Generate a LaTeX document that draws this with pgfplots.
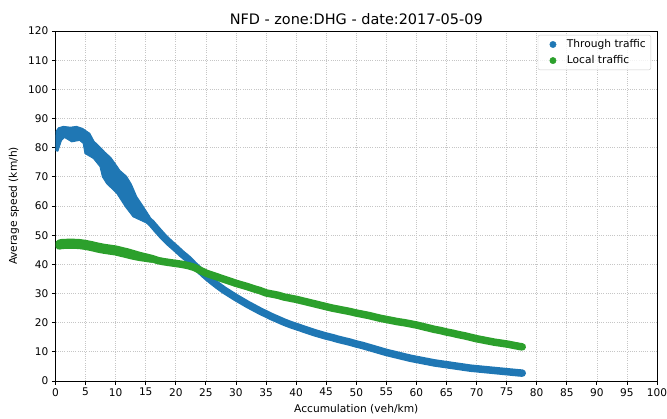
\documentclass[border=0pt]{standalone}
\usepackage{pgfplots}
\pgfplotsset{compat=1.18}
\usepackage{fontspec}
\setmainfont{DejaVu Sans}
\definecolor{tblue}{RGB}{31,119,180}
\definecolor{tgreen}{RGB}{44,160,44}
\begin{document}
\begin{tikzpicture}
\begin{axis}[
  scale only axis, width=601.5bp, height=350bp,
  at={(0,0)}, anchor=south west,
  xmin=0, xmax=100, ymin=0, ymax=120,
  xtick={0,5,...,100}, ytick={0,10,...,120},
  /pgf/number format/assume math mode=true,
  tick label style={font=\fontsize{10.6}{12}\selectfont, black},
  tick align=outside, xtick pos=left, ytick pos=left,
  major tick length=3.7bp,
  every tick/.style={black, line width=0.8bp},
  axis line style={black, line width=0.8bp},
  grid=major,
  major grid style={gray!45, line width=0.7bp, dash pattern=on 0.8bp off 1.4bp},
  title={NFD - zone:DHG - date:2017-05-09},
  every axis title/.style={font=\fontsize{14.5}{16}\selectfont, at={(axis description cs:0.5,1)}, anchor=base, yshift=6.8bp, inner sep=0pt},
  xlabel={Accumulation (veh/km)},
  every axis x label/.style={font=\fontsize{10.7}{12}\selectfont, at={(axis description cs:0.5,0)}, anchor=base, yshift=-31bp, inner sep=0pt},
  ylabel={Average speed (km/h)},
  every axis y label/.style={font=\fontsize{10.7}{12}\selectfont, at={(axis description cs:-0.0643,0.5)}, rotate=90, anchor=base, inner sep=0pt},
  legend cell align=left,
  legend style={at={(1,1)}, anchor=north east, xshift=-6bp, yshift=-4bp,
    draw=gray!40, rounded corners=2bp, fill=white, fill opacity=0.8, text opacity=1,
    font=\fontsize{10.7}{12}\selectfont, inner xsep=3bp, inner ysep=2.5bp, row sep=2.5bp},
  legend image code/.code={\path[draw=none] (0bp,0bp) -- (24bp,0bp); \path[#1, draw=none, fill opacity=1, draw opacity=1] plot coordinates {(12bp,0bp)};},
]
% legend entries
\addlegendimage{only marks, mark=*, mark size=3.2bp, color=tblue}
\addlegendentry{Through traffic}
\addlegendimage{only marks, mark=*, mark size=3.2bp, color=tgreen}
\addlegendentry{Local traffic}

% Through traffic: wide scatter band at low accumulation (outline of the point cloud)
\addplot[forget plot, fill=tblue, draw=tblue, line width=1bp, line join=round] coordinates {
(0,79) (0.05,85.5) (0.5,86.8) (1.3,87.3) (2.5,87.0) (3.5,87.3) (4.5,86.6) (5.7,84.9)
(6.4,82.2) (7.2,80.6) (8.2,78.5) (9.2,76.6) (9.9,74.6) (10.7,72.2) (11.8,70.2) (12.6,67.5)
(13.5,63.2) (14.6,59.8) (15.7,56.3)
(15.2,54.1) (12.9,56.3) (11.6,59.8) (10.2,64.3) (8.5,67.7) (7.8,70) (7.4,73.5) (6.3,76.3)
(4.9,78) (4.6,81.5) (4.0,82.5) (2.7,82) (1.5,83.5) (1.0,82.5) (0.4,78.8) (0,79)
};

% Through traffic: thin part
\addplot[forget plot, tblue, line width=7.5bp, line cap=round, line join=round] coordinates {
(14,58.2) (15,56) (16,54) (17,51.6) (18,49.3) (19,47.3) (20,45.5) (21,43.6) (22,41.9)
(23,39.8) (24,37.9) (25,36.0) (26,34.3) (27,32.7) (28,31.2) (29,29.9) (30,28.6) (31,27.4)
(32,26.2) (33,25.1) (34,24.0) (35,23.0) (36,22.0) (37,21.1) (38,20.2) (39,19.4) (40,18.7)
(41,18.0) (42,17.3) (43,16.6) (44,16.0) (45,15.4) (46,14.9) (47,14.3) (48,13.8) (49,13.3)
(50,12.7) (51,12.2) (52,11.6) (53,11.0) (54,10.4) (55,9.8) (56,9.3) (57,8.8) (58,8.3)
(59,7.8) (60,7.4) (61,7.0) (62,6.6) (63,6.2) (64,5.9) (65,5.6) (66,5.3) (67,5.0) (68,4.7)
(69,4.4) (70,4.2) (71,4.0) (72,3.8) (73,3.6) (74,3.4) (75,3.2) (76,3.0) (77,2.8) (77.6,2.7)
};

% Local traffic: spread at low accumulation
\addplot[forget plot, tgreen, line width=7.5bp, line cap=round, line join=round] coordinates {
(0.6,46.3) (1,46.5) (2,46.6) (3,46.6) (4,46.5) (5,46.2) (6,45.8) (7,45.3) (8,44.9) (9,44.6)
(10,44.3) (11,43.8) (12,43.3) (13,42.8) (14,42.4) (15,42.1) (16,41.8)
};
% Local traffic
\addplot[forget plot, tgreen, line width=7.5bp, line cap=round, line join=round] coordinates {
(0.6,47.2) (1,47.4) (2,47.5) (3,47.5) (4,47.4) (5,47.1) (6,46.7) (7,46.2) (8,45.8) (9,45.5)
(10,45.2) (11,44.7) (12,44.2) (13,43.6) (14,43.0) (15,42.5) (16,42.0) (17,41.3) (18,40.9)
(19,40.6) (20,40.3) (21,40.0) (22,39.6) (23,39.0) (24,38.0) (25,37.0) (26,36.3) (27,35.6)
(28,34.9) (29,34.2) (30,33.5) (31,32.9) (32,32.3) (33,31.6) (34,31.0) (35,30.2) (36,29.8)
(37,29.4) (38,28.8) (39,28.4) (40,28.0) (41,27.5) (42,27.0) (43,26.5) (44,26.0) (45,25.5)
(46,25.0) (47,24.6) (48,24.2) (49,23.8) (50,23.3) (51,22.9) (52,22.5) (53,22.0) (54,21.5)
(55,21.1) (56,20.7) (57,20.3) (58,20.0) (59,19.6) (60,19.2) (61,18.7) (62,18.2) (63,17.7)
(64,17.3) (65,16.8) (66,16.4) (67,15.9) (68,15.5) (69,15.0) (70,14.5) (71,14.1) (72,13.7)
(73,13.3) (74,13.0) (75,12.7) (76,12.3) (77,11.9) (77.6,11.7)
};
\end{axis}
\pgfresetboundingbox
\path (0,0) ++(-55.5bp,-38bp) rectangle ++(667bp,419bp);
\end{tikzpicture}
\end{document}
